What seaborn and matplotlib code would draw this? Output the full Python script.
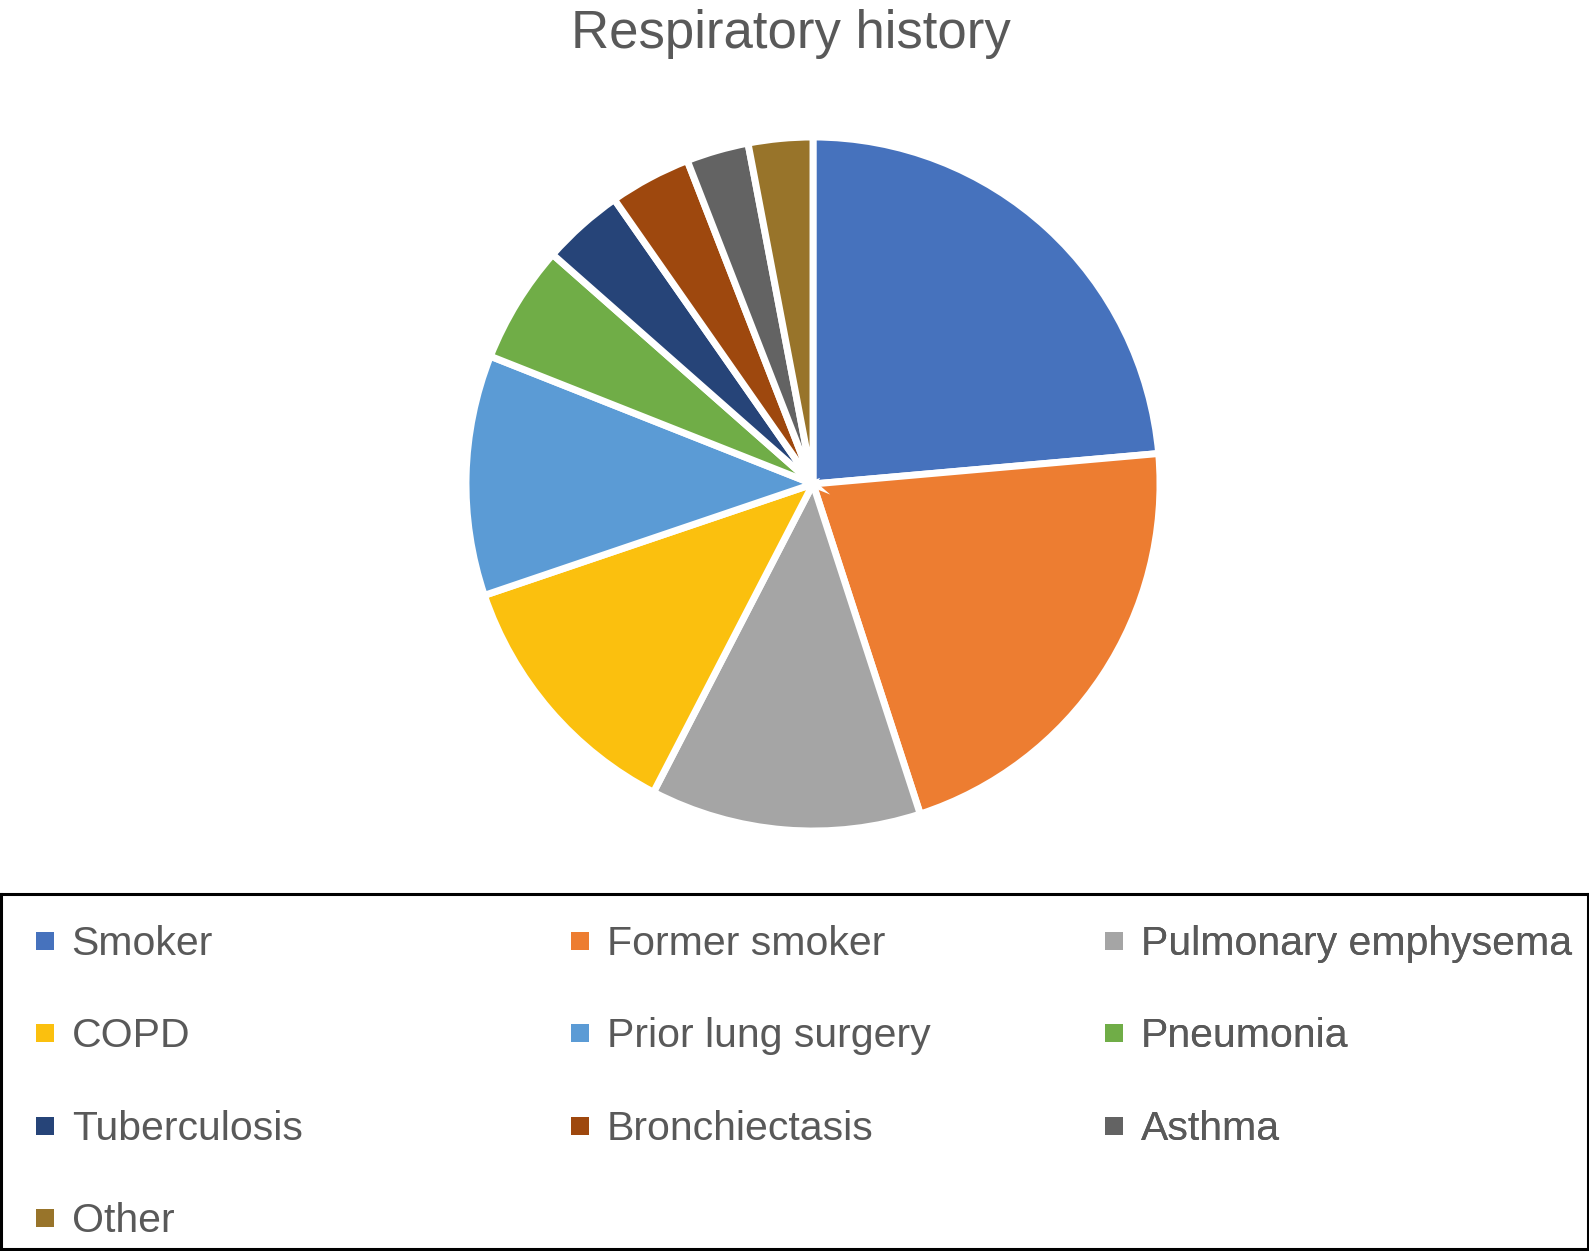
import matplotlib
matplotlib.use("Agg")
import matplotlib.pyplot as plt
import seaborn as sns
from matplotlib.lines import Line2D

# Datos (porcentaje de cada antecedente)
categories = ["Smoker", "Former smoker", "Pulmonary emphysema", "COPD",
              "Prior lung surgery", "Pneumonia", "Tuberculosis",
              "Bronchiectasis", "Asthma", "Other"]
values = [23.6, 21.4, 12.6, 12.2, 11.2, 5.5, 3.8, 3.8, 2.9, 3.0]
colors = ["#4672BD", "#ED7D31", "#A5A5A5", "#FBC00E", "#5B9BD5",
          "#70AD47", "#264478", "#9E480E", "#636363", "#98742A"]

sns.set_theme(style="white")
plt.rcParams["font.family"] = ["Liberation Sans", "DejaVu Sans"]

W, H = 1589, 1251
fig = plt.figure(figsize=(W / 100, H / 100), dpi=100)
text_color = "#595959"

# Titulo
fig.text(791 / W, 1 - 48 / H, "Respiratory history", ha="center", va="baseline",
         fontsize=38, color=text_color)

# Pizza
cx, cy, r = 813, 484, 347
ax = fig.add_axes([(cx - r) / W, (H - cy - r) / H, 2 * r / W, 2 * r / H])
ax.pie(values, colors=colors, startangle=90, counterclock=False, radius=1,
       wedgeprops=dict(edgecolor="white", linewidth=5))
ax.set_xlim(-1, 1)
ax.set_ylim(-1, 1)
ax.set_aspect("equal")
ax.axis("off")

# Caixa da legenda
ax_leg = fig.add_axes([1 / W, 2 / H, (W - 2) / W, (1249 - 894) / H])
ax_leg.set_xticks([])
ax_leg.set_yticks([])
for s in ax_leg.spines.values():
    s.set_color("black")
    s.set_linewidth(2.2)
    s.set_visible(True)

# Legenda em 3 colunas de largura fixa (ordem por linha)
col_x = [36, 571, 1105]
top_y = 925
fs = 29.5
for c in range(3):
    idx = list(range(c, len(categories), 3))
    handles = [Line2D([], [], linestyle="none", marker="s", markersize=12.5,
                      markerfacecolor=colors[i], markeredgewidth=0) for i in idx]
    labels = [categories[i] for i in idx]
    leg = ax_leg.legend(handles, labels, loc="upper left",
                        bbox_to_anchor=(col_x[c] / W, 1 - top_y / H),
                        bbox_transform=fig.transFigure, frameon=False,
                        fontsize=fs, borderpad=0, borderaxespad=0,
                        handlelength=0.45, handletextpad=0.42,
                        labelspacing=1.33, labelcolor=text_color)
    ax_leg.add_artist(leg)

fig.savefig("out.png", dpi=100)
